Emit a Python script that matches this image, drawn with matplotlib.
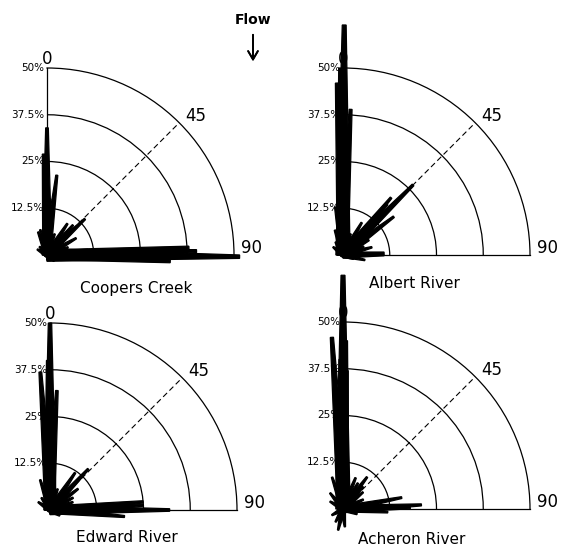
import numpy as np
import matplotlib.pyplot as plt

# spike data: direction (deg, clockwise from flow direction) and frequency (%)
coopers_angles = [0, -2, 7, 90.5, 89, 88.5, 87, 91, 93, 46.5, 33, 41, 60, 83, -21, -42, -15,
                  97, 92, 20, 70, 105, -60, 3, -5, 130]
coopers_lengths = [34, 27, 21.5, 51.5, 30, 40, 38, 25, 33, 14, 10, 10.6, 9, 11, 6.6, 3, 7,
                   4, 20, 6, 6, 3, 3, 15, 8, 2.5]

albert_angles = [0.3, -2, 3, -0.8, 1.5, 45, 40, 41, 53, 30, 60, 75, 87, 90, -51, -18, -9,
                 103, 20, 110, -30, 68]
albert_lengths = [61.5, 46, 39, 50, 30, 26.5, 20, 18, 17, 10, 8, 8, 11, 11, 3.4, 7, 13,
                  6, 6, 3, 4, 6]

edward_angles = [0, -0.8, 1, -4, 3.3, 90, 89, 87, 85, 92, 95, 43, 34, 53, 71, -56, -18,
                 20, 62, 100, -35, 120]
edward_lengths = [50, 40, 30, 37, 32, 32, 20, 25, 25, 15, 20, 15, 12, 9.4, 6.5, 3.8, 8.5,
                  6, 7, 5, 4, 3]

acheron_angles = [0, -1, 1, -3.7, 1.6, 87, 89, 79, 94, 37, 42, 22, 50, -19, -39, 193, 174,
                  241, 210, 65, 110, -60, 30]
acheron_lengths = [62.5, 40, 45, 46, 37, 21, 18, 16, 12, 10.7, 8, 9, 7, 9, 5.5, 5.8, 4.8,
                   3.4, 4, 6, 4, 4, 8]

panels = [
    ("Coopers Creek", coopers_angles, coopers_lengths),
    ("Albert River", albert_angles, albert_lengths),
    ("Edward River", edward_angles, edward_lengths),
    ("Acheron River", acheron_angles, acheron_lengths),
]
rings = [12.5, 25, 37.5, 50]
ring_labels = ["12.5%", "25%", "37.5%", "50%"]

W, H = 561, 550
origins = [(47, 255), (343, 255), (50, 510), (343, 509)]
title_pos = [(136, 288), (414, 284), (127, 537), (412, 540)]
R = 187  # pixel radius of 50% ring

plt.rcParams['font.family'] = 'DejaVu Sans'
fig = plt.figure(figsize=(W / 100, H / 100), dpi=100)


def spike(ax, ang, r):
    th = np.radians(ang)
    hb = 0.55 + 0.022 * r
    ht = 0.15 + 0.006 * r
    a = np.arctan(ht / r)
    rt = np.hypot(r, ht)
    thetas = [th - np.pi / 2, th - a, th + a, th + np.pi / 2]
    rs = [hb, rt, rt, hb]
    ax.fill(thetas, rs, color='black', lw=0.9, clip_on=False, zorder=5)


def deg_label(ax, ang, r, txt):
    ax.text(np.radians(ang), r, txt, fontsize=12, ha='center', va='center')
    ax.annotate("'", (np.radians(ang), r), xytext=(9, 6), textcoords='offset points',
                fontsize=5, ha='center', va='center')


for (name, angs, lens), (ox, oy), (tx, ty) in zip(panels, origins, title_pos):
    ax = fig.add_axes([ox / W, 1 - oy / H, R / W, R / H], projection='polar')
    ax.set_theta_zero_location('N')
    ax.set_theta_direction(-1)
    ax.set_thetamin(0)
    ax.set_thetamax(90)
    ax.set_ylim(0, 50)
    ax.set_rgrids(rings[:-1], labels=[''] * 3)
    ax.set_thetagrids([45], labels=[''])
    ax.yaxis.grid(True, color='black', lw=0.9, ls='-')
    ax.xaxis.grid(True, color='black', lw=0.8, ls=(0, (5, 3)))
    ax.tick_params(length=0)
    for sp in ['polar', 'start', 'end']:
        ax.spines[sp].set_color('black')
        ax.spines[sp].set_linewidth(0.9)
    ax.patch.set_alpha(0)

    for a, l in zip(angs, lens):
        spike(ax, a, l)

    for rv, lab in zip(rings, ring_labels):
        ax.annotate(lab, (0, rv), xytext=(-2, 0), textcoords='offset points',
                    fontsize=7.5, ha='right', va='center', zorder=1)

    deg_label(ax, 0, 52.5, "0")
    deg_label(ax, 47, 54.5, "45")
    deg_label(ax, 88, 54.6, "90")

    fig.text(tx / W, 1 - ty / H, name, fontsize=11, ha='center', va='center')

fig.text(253 / W, 1 - 20 / H, "Flow", fontsize=10, fontweight='bold', ha='center', va='center')
fig.add_artist(plt.annotate('', xy=(253 / W, 1 - 64 / H), xytext=(253 / W, 1 - 32 / H),
                            xycoords='figure fraction', textcoords='figure fraction',
                            arrowprops=dict(arrowstyle='->,head_length=0.6,head_width=0.35', lw=1.3, color='black')))

fig.savefig('out.png', dpi=100)
